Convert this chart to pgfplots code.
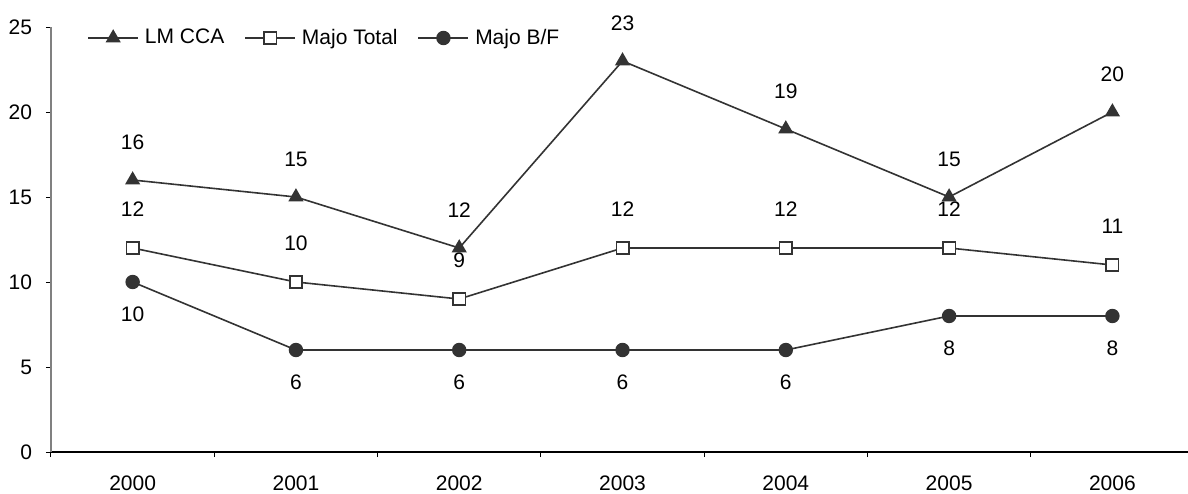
\documentclass[border=0pt]{standalone}
\usepackage{fontspec}
\setmainfont{Liberation Sans}
\usepackage{pgfplots}
\pgfplotsset{compat=1.18}
\usetikzlibrary{calc}
\definecolor{ln}{HTML}{333333}

\begin{document}
\begin{tikzpicture}
\begin{axis}[
  name=ax,
  scale only axis,
  width=568.5pt, height=212.5pt,
  xmin=-0.5, xmax=6.463,
  ymin=0, ymax=25,
  clip=false,
  axis x line=bottom, axis y line=left,
  axis line style={-},
  x axis line style={black, line width=0.6pt},
  y axis line style={gray, line width=0.6pt},
  xtick={0,...,6},
  xticklabels={2000,2001,2002,2003,2004,2005,2006},
  major x tick style={draw=none},
  minor xtick={-0.5,0.5,1.5,2.5,3.5,4.5,5.5},
  minor tick length=2.5pt,
  ytick={0,5,...,25},
  tick align=outside,
  major tick length=2.5pt,
  tick style={black, line width=0.5pt},
  every tick label/.append style={font=\fontsize{10.5}{12}\selectfont},
  xticklabel style={yshift=-6pt},
  yticklabel style={xshift=-3.5pt},
  /pgf/number format/assume math mode=true,
  nodes near coords,
  every node near coord/.append style={font=\fontsize{10.5}{12}\selectfont, anchor=center, text=black},
  legend columns=3,
  legend style={draw=none, fill=none, inner sep=0pt, anchor=west,
    at={(axis description cs:0,1)}, xshift=18pt, yshift=-5.5pt,
    font=\fontsize{10.5}{12}\selectfont,
    /tikz/every odd column/.append style={column sep=1pt},
    /tikz/every even column/.append style={column sep=8pt}},
  legend image code/.code={\draw[mark repeat=2,mark phase=2,#1] plot coordinates {(0pt,0pt) (12.5pt,0pt) (25pt,0pt)};},
]
\addplot[ln, line width=0.8pt, mark=triangle*, mark size=3.6pt, mark options={fill=ln, solid},
  every node near coord/.append style={yshift=19pt}]
  coordinates {(0,16) (1,15) (2,12) (3,23) (4,19) (5,15) (6,20)};
\addlegendentry{LM CCA}
\addplot[ln, line width=0.8pt, mark=square*, mark size=3.1pt, mark options={fill=white, draw=ln, solid},
  every node near coord/.append style={yshift=19.5pt}]
  coordinates {(0,12) (1,10) (2,9) (3,12) (4,12) (5,12) (6,11)};
\addlegendentry{Majo Total}
\addplot[ln, line width=0.8pt, mark=*, mark size=3.2pt, mark options={fill=ln, solid},
  every node near coord/.append style={yshift=-16pt}]
  coordinates {(0,10) (1,6) (2,6) (3,6) (4,6) (5,8) (6,8)};
\addlegendentry{Majo B/F}
\end{axis}
\pgfresetboundingbox
\path ($(ax.south west)+(-25.5pt,-20.5pt)$) rectangle ($(ax.north east)+(0pt,13.5pt)$);
\end{tikzpicture}
\end{document}
